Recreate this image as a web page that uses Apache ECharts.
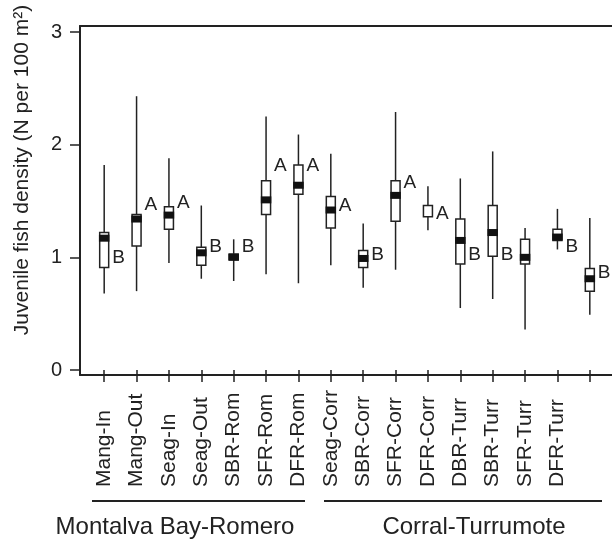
<!DOCTYPE html>
<html>
<head>
<meta charset="utf-8">
<script src="https://cdn.jsdelivr.net/npm/echarts@6/dist/echarts.min.js"></script>
<style>
  html, body { margin: 0; padding: 0; background: #fff; }
  #chart { width: 612px; height: 542px; }
</style>
</head>
<body>
<div id="chart"></div>
<script>
// sites (the last box has no label in the original figure)
let categories = ['Mang-In', 'Mang-Out', 'Seag-In', 'Seag-Out', 'SBR-Rom', 'SFR-Rom', 'DFR-Rom',
    'Seag-Corr', 'SBR-Corr', 'SFR-Corr', 'DFR-Corr', 'DBR-Turr', 'SBR-Turr', 'SFR-Turr', 'DFR-Turr', ''];

let whiskerLow  = [0.68, 0.70, 0.95, 0.81, 0.79, 0.85, 0.77, 0.93, 0.73, 0.89, 1.24, 0.55, 0.63, 0.36, 1.07, 0.49];
let q1          = [0.91, 1.10, 1.25, 0.93, 0.98, 1.38, 1.56, 1.26, 0.91, 1.32, 1.36, 0.94, 1.01, 0.94, 1.15, 0.70];
let median      = [1.17, 1.34, 1.375, 1.04, 1.00, 1.51, 1.64, 1.42, 0.99, 1.55, null, 1.15, 1.22, 1.00, 1.18, 0.81];
let q3          = [1.22, 1.38, 1.45, 1.09, 1.03, 1.68, 1.82, 1.54, 1.06, 1.68, 1.46, 1.34, 1.46, 1.16, 1.25, 0.90];
let whiskerHigh = [1.82, 2.43, 1.88, 1.46, 1.16, 2.25, 2.09, 1.92, 1.30, 2.29, 1.63, 1.70, 1.94, 1.26, 1.43, 1.35];

// significance letters and the height they sit at
let letters = ['B', 'A', 'A', 'B', 'B', 'A', 'A', 'A', 'B', 'A', 'A', 'B', 'B', '', 'B', 'B'];
let letterY = [1.00, 1.47, 1.48, 1.09, 1.09, 1.81, 1.81, 1.46, 1.02, 1.66, 1.39, 1.02, 1.02, null, 1.09, 0.86];

let yTicks = [0, 1, 2, 3];
let groups = ['Montalva Bay-Romero', 'Corral-Turrumote'];

const FONT = 'Liberation Sans, Arial, Helvetica, sans-serif';
const INK = '#222';

let boxData = categories.map((c, i) => [i, whiskerLow[i], q1[i], median[i] == null ? '-' : median[i], q3[i], whiskerHigh[i]]);
let letterData = [];
letters.forEach((l, i) => {
    if (l) letterData.push({ value: [i, letterY[i]], name: l });
});

let chart = echarts.init(document.getElementById('chart'));
chart.setOption({
    animation: false,
    backgroundColor: '#fff',
    textStyle: { fontFamily: FONT, color: INK },
    grid: [
        // data grid
        { left: 88, right: 6, top: 32, bottom: 172 },
        // frame around the plot
        { left: 80, right: 0, top: 26, bottom: 167 }
    ],
    xAxis: [
        {
            type: 'category',
            gridIndex: 0,
            data: categories,
            offset: 5,
            axisLine: { show: false },
            axisTick: { show: true, alignWithLabel: true, interval: 0, length: 12, lineStyle: { color: INK, width: 1.5 } },
            axisLabel: {
                interval: 0, rotate: 90, align: 'left', verticalAlign: 'middle',
                margin: 112, fontSize: 21, color: INK, fontFamily: FONT
            },
            splitLine: { show: false }
        },
        {
            type: 'value', gridIndex: 1, min: 0, max: 1, position: 'bottom',
            axisLine: { show: true, lineStyle: { color: INK, width: 2 } },
            axisTick: { show: false }, axisLabel: { show: false }, splitLine: { show: false }
        },
        {
            type: 'value', gridIndex: 1, min: 0, max: 1, position: 'top',
            axisLine: { show: true, lineStyle: { color: INK, width: 2 } },
            axisTick: { show: false }, axisLabel: { show: false }, splitLine: { show: false }
        }
    ],
    yAxis: [
        {
            type: 'value',
            gridIndex: 0,
            min: yTicks[0],
            max: yTicks[yTicks.length - 1],
            interval: 1,
            offset: 8,
            axisLine: { show: false },
            axisTick: { show: true, length: 10, lineStyle: { color: INK, width: 1.5 } },
            axisLabel: { fontSize: 20, margin: 18, color: INK, fontFamily: FONT },
            splitLine: { show: false }
        },
        {
            type: 'value', gridIndex: 1, min: 0, max: 1,
            axisLine: { show: true, lineStyle: { color: INK, width: 2 } },
            axisTick: { show: false }, axisLabel: { show: false }, splitLine: { show: false }
        }
    ],
    series: [
        {
            // whiskers, boxes and thick median bands
            type: 'custom',
            xAxisIndex: 0,
            yAxisIndex: 0,
            data: boxData,
            renderItem: function (params, api) {
                let i = api.value(0);
                let lo = api.coord([i, api.value(1)]);
                let b1 = api.coord([i, api.value(2)]);
                let md = api.value(3);
                let b3 = api.coord([i, api.value(4)]);
                let hi = api.coord([i, api.value(5)]);
                let w = 9;
                let kids = [
                    { type: 'line', shape: { x1: lo[0], y1: lo[1], x2: hi[0], y2: hi[1] },
                      style: { stroke: INK, lineWidth: 1.5 } },
                    { type: 'rect', shape: { x: b3[0] - w / 2, y: b3[1], width: w, height: b1[1] - b3[1] },
                      style: { fill: '#fff', stroke: INK, lineWidth: 1.5 } }
                ];
                if (!isNaN(md)) {
                    let m = api.coord([i, md]);
                    kids.push({ type: 'rect', shape: { x: m[0] - w / 2 - 0.75, y: m[1] - 3.5, width: w + 1.5, height: 7 },
                        style: { fill: '#111' } });
                }
                return { type: 'group', children: kids };
            }
        },
        {
            // A / B letters beside the boxes
            type: 'custom',
            xAxisIndex: 0,
            yAxisIndex: 0,
            data: letterData,
            renderItem: function (params, api) {
                let p = api.coord([api.value(0), api.value(1)]);
                return {
                    type: 'text',
                    x: p[0] + 8,
                    y: p[1],
                    style: {
                        text: letterData[params.dataIndex].name,
                        fill: INK, font: '19px ' + FONT,
                        align: 'left', verticalAlign: 'middle'
                    }
                };
            }
        }
    ],
    graphic: [
        {
            type: 'text', x: 22, y: 170, rotation: Math.PI / 2,
            style: {
                text: 'Juvenile fish density (N per 100 m\u00B2)',
                fill: INK, font: '21px ' + FONT, align: 'center', verticalAlign: 'middle'
            }
        },
        { type: 'line', shape: { x1: 92, y1: 501, x2: 305, y2: 501 }, style: { stroke: INK, lineWidth: 2 } },
        { type: 'line', shape: { x1: 324, y1: 501, x2: 602, y2: 501 }, style: { stroke: INK, lineWidth: 2 } },
        {
            type: 'text', x: 175, y: 527,
            style: { text: groups[0], fill: INK, font: '24px ' + FONT, align: 'center', verticalAlign: 'middle' }
        },
        {
            type: 'text', x: 474, y: 527,
            style: { text: groups[1], fill: INK, font: '24px ' + FONT, align: 'center', verticalAlign: 'middle' }
        }
    ]
});
</script>
</body>
</html>
